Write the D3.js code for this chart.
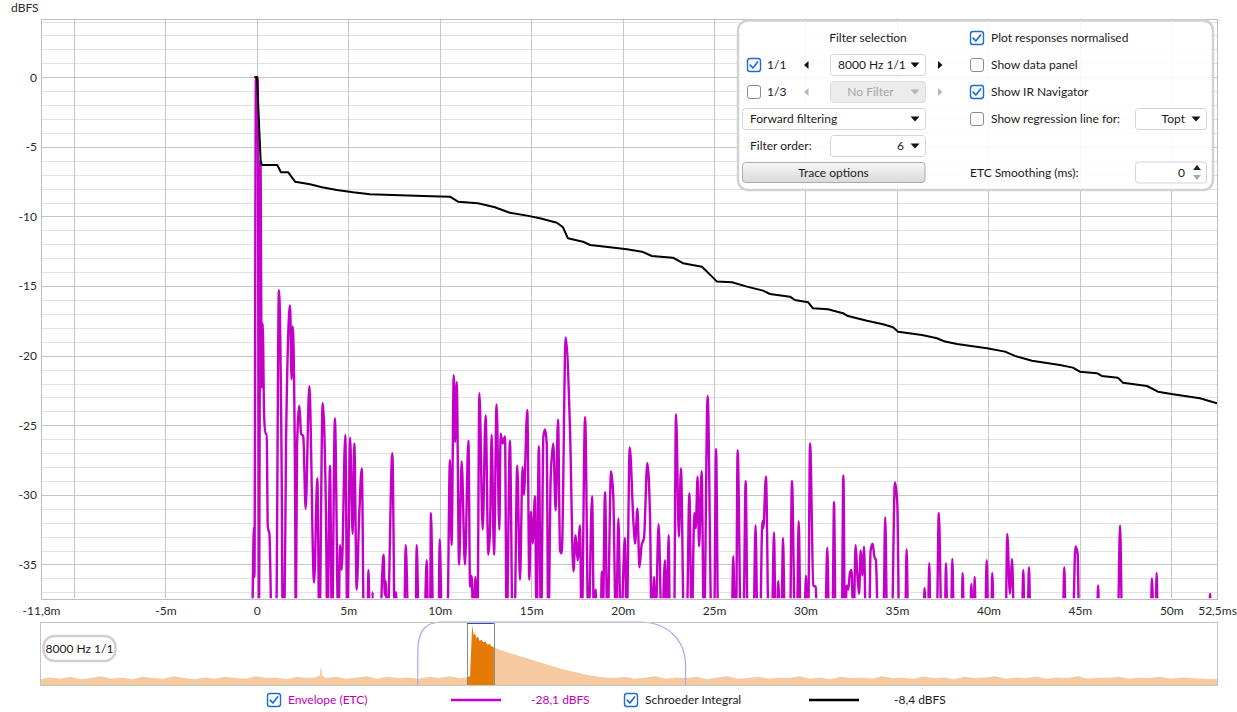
<!DOCTYPE html>
<html><head><meta charset="utf-8">
<script src="https://cdn.jsdelivr.net/npm/d3@7/dist/d3.min.js"></script>
<style>
html,body{margin:0;padding:0;background:#fff;}
svg{display:block;font-family:Lato,"Open Sans",sans-serif;}
</style></head><body>
<svg id="chart" width="1237" height="712"></svg>
<script>
// ---------------- data ----------------
const xDomain = [-11.8, 52.5];            // ms
const yDomain = [4.22, -37.43];           // dBFS
const xGridValues = [-10,-5,0,5,10,15,20,25,30,35,40,45,50];
const xTickValues = [-11.8,-5,0,5,10,15,20,25,30,35,40,45,50,52.5];
const xTickLabels = ["-11,8m","-5m","0","5m","10m","15m","20m","25m","30m","35m","40m","45m","50m","52,5ms"];
const yTickValues = [0,-5,-10,-15,-20,-25,-30,-35];
const yTickLabels = ["0","-5","-10","-15","-20","-25","-30","-35"];

// Envelope (ETC) : [time ms, level dBFS]
const etcData = [
[-0.25,-40],[-0.15,-32.3],[-0.13,-35.9],[-0.05,0],[0.05,0],[0.12,-38],[0.2,-6.0],[0.27,-22.3],[0.32,-17.7],
[0.4,-24.3],[0.47,-25.6],[0.54,-25.6],[0.6,-32.3],[0.69,-32.8],[0.82,-40],[1.05,-40],[1.21,-15.3],[1.36,-28.6],
[1.42,-40],[1.5,-40],[1.6,-26.0],[1.82,-16.4],[1.9,-21.7],[1.96,-17.9],[2.09,-28.8],[2.13,-40],[2.2,-26.5],
[2.33,-23.6],[2.42,-25.6],[2.54,-25.8],[2.67,-31.0],[2.87,-22.2],[3.13,-36.3],[3.31,-28.8],[3.42,-40],[3.6,-23.4],
[3.78,-31.3],[3.86,-40],[4.0,-27.9],[4.11,-40],[4.27,-24.5],[4.46,-40],[4.55,-33.6],[4.64,-35.4],[4.84,-25.7],
[4.95,-40],[5.1,-25.9],[5.24,-32.8],[5.33,-26.3],[5.46,-36.8],[5.59,-31.8],[5.74,-28.1],[5.86,-40],[6.05,-40],
[6.1,-35.4],[6.19,-40],[6.3,-40],[6.33,-37.0],[6.37,-40],[6.75,-40],[6.85,-35.9],[6.93,-34.3],[7.0,-37.2],
[7.05,-36.2],[7.14,-40],[7.41,-27.0],[7.55,-40],[7.61,-37.0],[7.69,-40],[8.05,-40],[8.14,-33.6],[8.3,-40],
[8.68,-40],[8.74,-33.6],[8.87,-40],[9.15,-40],[9.29,-34.7],[9.38,-40],[9.47,-40],[9.52,-31.3],[9.66,-40],
[9.93,-40],[10.0,-33.2],[10.13,-40],[10.41,-40],[10.56,-27.5],[10.65,-33.6],[10.77,-21.4],[10.84,-26.2],
[10.93,-21.9],[11.06,-35.0],[11.2,-27.6],[11.38,-35.0],[11.57,-26.1],[11.66,-36.6],[11.75,-35.8],[11.84,-40],
[11.95,-35.9],[12.06,-40],[12.17,-22.7],[12.35,-32.5],[12.51,-24.3],[12.66,-34.3],[12.75,-32.5],[12.84,-25.7],
[12.97,-34.3],[13.11,-23.5],[13.26,-32.5],[13.33,-25.6],[13.44,-26.3],[13.57,-25.8],[13.66,-40],[13.84,-26.1],
[13.99,-40],[14.08,-40],[14.24,-27.9],[14.39,-36.1],[14.53,-28.0],[14.6,-30.0],[14.79,-23.9],[14.9,-36.1],
[14.99,-31.2],[15.08,-33.5],[15.21,-30.1],[15.3,-40],[15.42,-26.5],[15.54,-40],[15.67,-25.8],[15.76,-25.3],
[15.85,-26.3],[15.94,-40],[16.07,-28.7],[16.21,-26.3],[16.34,-31.1],[16.47,-24.6],[16.58,-34.0],[16.67,-34.2],
[16.89,-18.7],[17.13,-25.6],[17.31,-35.5],[17.43,-32.9],[17.54,-34.7],[17.67,-32.2],[17.76,-40],[17.95,-24.4],
[18.13,-40],[18.33,-30.1],[18.44,-40],[18.53,-36.8],[18.58,-40],[18.8,-40],[18.86,-35.5],[18.91,-40],
[19.04,-29.8],[19.17,-40],[19.37,-28.3],[19.49,-30.1],[19.64,-40],[19.77,-31.7],[19.9,-40],[20.13,-33.1],
[20.22,-40],[20.39,-26.6],[20.59,-31.9],[20.68,-33.5],[20.81,-31.0],[20.92,-35.2],[21.04,-33.6],[21.17,-33.1],
[21.35,-27.7],[21.5,-31.6],[21.59,-40],[21.72,-35.9],[21.79,-40],[21.97,-32.1],[22.14,-40],[22.32,-34.7],
[22.41,-40],[22.52,-32.9],[22.59,-40],[22.81,-40],[22.92,-24.2],[23.08,-33.0],[23.19,-28.1],[23.36,-40],
[23.5,-40],[23.65,-29.9],[23.78,-40],[23.92,-31.3],[24.0,-32.4],[24.1,-28.7],[24.18,-33.7],[24.32,-28.3],
[24.45,-40],[24.65,-22.9],[24.87,-40],[25.0,-40],[25.11,-26.7],[25.23,-40],[25.96,-40],[26.05,-34.4],
[26.15,-40],[26.2,-40],[26.29,-26.8],[26.47,-40],[26.6,-40],[26.73,-29.0],[26.84,-40],[27.15,-40],
[27.27,-32.2],[27.38,-40],[27.51,-40],[27.64,-31.9],[27.69,-32.4],[27.84,-28.7],[27.99,-40],[28.15,-40],
[28.28,-32.7],[28.37,-40],[28.44,-40],[28.51,-36.2],[28.61,-40],[28.68,-40],[28.77,-33.1],[28.88,-40],
[29.15,-40],[29.26,-29.0],[29.43,-40],[29.52,-40],[29.63,-31.9],[29.74,-40],[29.92,-40],[30.03,-35.8],
[30.1,-40],[30.14,-40],[30.25,-26.3],[30.43,-36.5],[30.56,-36.6],[30.65,-40],[31.07,-40],[31.19,-33.8],
[31.3,-40],[31.47,-40],[31.56,-30.5],[31.65,-40],[31.98,-40],[32.07,-28.6],[32.16,-40],[32.25,-36.5],
[32.34,-36.8],[32.43,-35.6],[32.52,-35.4],[32.62,-40],[32.74,-33.6],[32.83,-35.6],[32.93,-37.1],[33.02,-34.0],
[33.11,-35.8],[33.2,-33.7],[33.31,-40],[33.47,-40],[33.56,-34.0],[33.67,-33.5],[33.76,-34.4],[33.85,-34.7],
[33.98,-40],[34.25,-40],[34.36,-31.6],[34.47,-40],[34.71,-40],[34.89,-29.1],[35.02,-30.6],[35.13,-40],
[35.44,-40],[35.53,-33.9],[35.62,-40],[36.44,-40],[36.51,-36.7],[36.59,-40],[36.68,-40],[36.77,-34.9],
[36.84,-40],[37.17,-40],[37.29,-31.3],[37.45,-40],[37.61,-40],[37.68,-34.9],[37.77,-40],[37.94,-40],
[38.03,-34.6],[38.12,-40],[38.54,-40],[38.59,-35.6],[38.68,-40],[38.99,-40],[39.07,-36.4],[39.14,-40],
[39.18,-40],[39.25,-35.9],[39.32,-40],[39.81,-40],[39.91,-34.7],[40.0,-40],[40.14,-40],[40.21,-35.6],
[40.31,-40],[40.94,-40],[41.03,-32.8],[41.18,-37.1],[41.29,-34.6],[41.42,-40],[41.82,-40],[41.91,-35.4],
[41.98,-40],[42.13,-40],[42.22,-35.2],[42.31,-40],[44.06,-40],[44.15,-35.2],[44.24,-40],[44.61,-40],
[44.76,-33.7],[44.88,-34.2],[44.97,-40],[45.92,-40],[46.0,-36.5],[46.07,-40],[47.07,-40],[47.2,-32.2],
[47.32,-40],[48.87,-40],[48.94,-36.0],[49.05,-40],[49.13,-40],[49.2,-35.6],[49.27,-40],[52.05,-40],
[52.12,-37.1],[52.2,-40],[52.5,-40]
];

// Schroeder integral : [time ms, level dBFS]
const schroederData = [
[-0.14,0],[0.01,0],[0.09,-2.4],[0.21,-6.0],[0.28,-6.3],[1.12,-6.3],[1.32,-6.82],[1.71,-6.82],[2.09,-7.5],
[2.91,-7.69],[3.56,-7.9],[4.38,-8.1],[5.26,-8.26],[6.19,-8.4],[7.83,-8.48],[9.09,-8.53],[10.56,-8.58],
[11.0,-8.94],[12.09,-9.05],[13.02,-9.34],[13.84,-9.73],[14.77,-9.94],[15.48,-10.13],[16.41,-10.45],
[16.74,-10.78],[17.01,-11.57],[17.83,-11.81],[18.22,-12.05],[19.31,-12.21],[20.24,-12.36],[21.06,-12.53],
[21.6,-12.84],[22.75,-12.96],[23.3,-13.36],[24.34,-13.61],[24.89,-14.32],[25.16,-14.68],[25.98,-14.73],
[26.8,-15.04],[27.68,-15.33],[28.06,-15.57],[29.15,-15.76],[29.42,-16.0],[30.14,-16.16],[30.41,-16.6],
[31.23,-16.67],[32.05,-16.95],[32.27,-17.13],[33.36,-17.49],[34.24,-17.74],[34.79,-17.96],[35.06,-18.28],
[36.37,-18.51],[37.19,-18.75],[37.63,-18.99],[38.28,-19.16],[39.92,-19.47],[40.91,-19.71],[41.45,-20.02],
[42.38,-20.36],[43.91,-20.67],[44.62,-20.86],[45.0,-21.15],[45.93,-21.26],[46.2,-21.46],[47.08,-21.58],
[47.36,-21.94],[48.67,-22.18],[49.27,-22.59],[50.09,-22.77],[51.57,-23.06],[52.5,-23.42]
];

// IR navigator: [time ms, relative level 0..1]
const navDomain = [-1049, 1808];
const navData = [
[-1049,0.09],[-1025,0.12],[-1000,0.10],[-975,0.13],[-950,0.09],[-925,0.11],[-900,0.14],[-875,0.10],[-850,0.12],
[-825,0.09],[-800,0.13],[-775,0.11],[-750,0.10],[-725,0.14],[-700,0.11],[-675,0.09],[-650,0.12],[-625,0.10],
[-600,0.13],[-575,0.11],[-550,0.10],[-525,0.14],[-500,0.11],[-475,0.12],[-450,0.09],[-425,0.13],[-400,0.11],
[-380,0.12],[-370,0.15],[-367,0.30],[-364,0.15],[-355,0.11],[-330,0.13],[-305,0.10],[-280,0.12],[-255,0.14],
[-230,0.10],[-205,0.13],[-180,0.11],[-155,0.12],[-130,0.10],[-105,0.13],[-80,0.11],[-55,0.14],[-30,0.11],
[-15,0.12],[-5,0.14],[-2,0.6],[0,0.94],[2,0.86],[4,0.78],[7,0.82],[10,0.74],[14,0.77],[18,0.70],[22,0.72],
[27,0.68],[32,0.69],[37,0.64],[42,0.65],[47,0.61],[52.5,0.60],[60,0.58],[70,0.55],[80,0.53],[95,0.50],
[110,0.47],[125,0.44],[140,0.41],[160,0.37],[180,0.33],[200,0.29],[220,0.25],[240,0.22],[260,0.19],
[280,0.16],[300,0.14],[320,0.12],[345,0.11],[370,0.13],[395,0.10],[420,0.12],[445,0.14],[470,0.10],
[495,0.12],[520,0.11],[545,0.13],[570,0.09],[595,0.12],[620,0.14],[645,0.10],[670,0.11],[695,0.13],
[720,0.10],[745,0.12],[770,0.11],[795,0.14],[820,0.10],[845,0.12],[870,0.09],[895,0.13],[920,0.11],
[945,0.12],[970,0.10],[995,0.14],[1020,0.11],[1045,0.12],[1070,0.10],[1095,0.13],[1120,0.11],[1145,0.12],
[1170,0.09],[1195,0.13],[1220,0.11],[1245,0.12],[1270,0.14],[1295,0.10],[1320,0.12],[1345,0.11],[1370,0.13],
[1395,0.10],[1420,0.12],[1445,0.11],[1470,0.14],[1495,0.10],[1520,0.12],[1545,0.11],[1570,0.13],[1595,0.10],
[1620,0.12],[1645,0.11],[1670,0.13],[1695,0.10],[1720,0.12],[1745,0.11],[1770,0.10],[1808,0.09]
];
const navWindow = [-132, 518];   // analysis window (ms)
const navLabel = "8000 Hz 1/1";

const legendItems = [
  {name:"Envelope (ETC)", value:"-28,1 dBFS", color:"#c400c8", textColor:"#c000c0"},
  {name:"Schroeder Integral", value:"-8,4 dBFS", color:"#000000", textColor:"#1a1a1a"}
];

// ---------------- drawing ----------------
const svg = d3.select("#chart");
const P = {l:41, r:1217, t:18.5, b:598.3};
const x = d3.scaleLinear().domain(xDomain).range([P.l, P.r]);
const y = d3.scaleLinear().domain(yDomain).range([P.t, P.b]);
const crisp = v => Math.round(v) + 0.5;

const defs = svg.append("defs");
defs.append("clipPath").attr("id","plotClip").append("rect")
  .attr("x",P.l).attr("y",P.t).attr("width",P.r-P.l).attr("height",P.b-P.t);
const grad = defs.append("linearGradient").attr("id","btnGrad").attr("x1",0).attr("y1",0).attr("x2",0).attr("y2",1);
grad.append("stop").attr("offset","0%").attr("stop-color","#f7f7f7");
grad.append("stop").attr("offset","100%").attr("stop-color","#d9d9d9");

// grid
const grid = svg.append("g");
const minorY = d3.range(-37, 5, 1).filter(v => v % 5 !== 0);
grid.selectAll("line.minor").data(minorY).join("line")
  .attr("x1",P.l).attr("x2",P.r).attr("y1",d=>crisp(y(d))).attr("y2",d=>crisp(y(d)))
  .attr("stroke","#e2e2e2").attr("stroke-width",1);
grid.selectAll("line.majorY").data(yTickValues).join("line")
  .attr("x1",P.l).attr("x2",P.r).attr("y1",d=>crisp(y(d))).attr("y2",d=>crisp(y(d)))
  .attr("stroke","#c6c6c6").attr("stroke-width",1);
grid.selectAll("line.majorX").data(xGridValues).join("line")
  .attr("y1",P.t).attr("y2",P.b).attr("x1",d=>crisp(x(d))).attr("x2",d=>crisp(x(d)))
  .attr("stroke","#c6c6c6").attr("stroke-width",1);
svg.append("rect").attr("x",crisp(P.l)).attr("y",crisp(P.t)).attr("width",Math.round(P.r-P.l)).attr("height",Math.round(P.b-P.t))
  .attr("fill","none").attr("stroke","#bdbdbd");

// axes labels
const yAxis = svg.append("g").attr("transform",`translate(${P.l},0)`)
  .call(d3.axisLeft(y).tickValues(yTickValues).tickFormat((d,i)=>yTickLabels[i]).tickSize(0).tickPadding(4));
yAxis.select(".domain").remove();
yAxis.selectAll("text").attr("font-size",12).attr("fill","#2a2a2a").attr("font-family","Lato, sans-serif");

const xAxis = svg.append("g").attr("transform",`translate(0,${P.b})`)
  .call(d3.axisBottom(x).tickValues(xTickValues).tickFormat((d,i)=>xTickLabels[i]).tickSize(0).tickPadding(8));
xAxis.select(".domain").remove();
xAxis.selectAll("text").attr("font-size",12).attr("fill","#2a2a2a").attr("font-family","Lato, sans-serif");

svg.append("text").attr("x",11).attr("y",12).attr("font-size",12).attr("fill","#2a2a2a").text("dBFS");

// series
const plot = svg.append("g").attr("clip-path","url(#plotClip)");
const etcLine = d3.line().x(d=>x(d[0])).y(d=>y(d[1])).curve(d3.curveMonotoneX);
plot.append("path").datum(etcData).attr("d",etcLine)
  .attr("fill","none").attr("stroke","#c400c8").attr("stroke-width",2.4).attr("stroke-linejoin","round");
const schLine = d3.line().x(d=>x(d[0])).y(d=>y(d[1]));
plot.append("path").datum(schroederData).attr("d",schLine)
  .attr("fill","none").attr("stroke","#000").attr("stroke-width",2).attr("stroke-linejoin","round");

// ---------------- control panel ----------------
const ui = svg.append("g").attr("font-size",12).attr("fill","#1a1a1a");
ui.append("rect").attr("x",738).attr("y",20.5).attr("width",475).attr("height",169.5).attr("rx",10)
  .attr("fill","#fff").attr("fill-opacity",0.86).attr("stroke","#d2d2d2").attr("stroke-width",2.5);

function checkbox(g, cx, cy, checked){
  g.append("rect").attr("x",cx+0.5).attr("y",cy+0.5).attr("width",13).attr("height",13).attr("rx",2.5)
    .attr("fill","#fff").attr("stroke",checked?"#1c6dd0":"#8c8c8c").attr("stroke-width",checked?1.4:1);
  if(checked){
    g.append("path").attr("d",`M${cx+3.2},${cy+7.2} L${cx+5.9},${cy+10} L${cx+10.6},${cy+4}`)
      .attr("fill","none").attr("stroke","#1c6dd0").attr("stroke-width",1.7).attr("stroke-linecap","round").attr("stroke-linejoin","round");
  }
}
function label(g, tx, ty, txt, anchor, color){
  return g.append("text").attr("x",tx).attr("y",ty).attr("dy","0.35em")
    .attr("text-anchor",anchor||"start").attr("fill",color||"#1a1a1a").text(txt);
}
function downTri(g, cx, cy, color){
  g.append("path").attr("d",`M${cx-4.5},${cy-2.5} L${cx+4.5},${cy-2.5} L${cx},${cy+2.5} Z`).attr("fill",color);
}
function dropdown(g, x0, x1, cy, txt, anchor, disabled){
  g.append("rect").attr("x",x0+0.5).attr("y",cy-10.5).attr("width",x1-x0).attr("height",21).attr("rx",3)
    .attr("fill",disabled?"#ececec":"#fff").attr("stroke",disabled?"#dedede":"#d4d4d4");
  downTri(g, x1-10, cy, disabled?"#b4b4b4":"#111");
  let tx = anchor==="end" ? x1-21 : anchor==="middle" ? (x0+x1-14)/2 : x0+8;
  label(g, tx, cy, txt, anchor, disabled?"#a4a4a4":"#1a1a1a");
}
function arrowL(g, cx, cy, color){ g.append("path").attr("d",`M${cx+2.5},${cy-4} L${cx+2.5},${cy+4} L${cx-2},${cy} Z`).attr("fill",color); }
function arrowR(g, cx, cy, color){ g.append("path").attr("d",`M${cx-2},${cy-4} L${cx-2},${cy+4} L${cx+2.5},${cy} Z`).attr("fill",color); }

label(ui, 868, 38, "Filter selection", "middle");
checkbox(ui, 747, 58, true); label(ui, 767, 65, "1/1");
arrowL(ui, 806, 65, "#111"); dropdown(ui, 830, 925, 65, "8000 Hz 1/1"); arrowR(ui, 940, 65, "#111");
checkbox(ui, 747, 85, false); label(ui, 767, 92, "1/3");
arrowL(ui, 806, 92, "#b8b8b8"); dropdown(ui, 830, 925, 92, "No Filter", "middle", true); arrowR(ui, 940, 92, "#b8b8b8");
dropdown(ui, 742, 925, 119, "Forward filtering");
label(ui, 750, 146, "Filter order:");
dropdown(ui, 830, 925, 146, "6", "end");
ui.append("rect").attr("x",742.5).attr("y",162.5).attr("width",182.5).attr("height",20).attr("rx",3)
  .attr("fill","url(#btnGrad)").attr("stroke","#ababab");
label(ui, 833.5, 172.5, "Trace options", "middle");

checkbox(ui, 970, 31, true);  label(ui, 991, 38, "Plot responses normalised");
checkbox(ui, 970, 58, false); label(ui, 991, 65, "Show data panel");
checkbox(ui, 970, 85, true);  label(ui, 991, 92, "Show IR Navigator");
checkbox(ui, 970, 112, false); label(ui, 991, 119, "Show regression line for:");
dropdown(ui, 1135, 1206, 119, "Topt", "end");
label(ui, 970, 172.5, "ETC Smoothing (ms):");
ui.append("rect").attr("x",1135.5).attr("y",162).attr("width",71).attr("height",21).attr("rx",3)
  .attr("fill","#fff").attr("stroke","#d4d4d4");
label(ui, 1185, 172.5, "0", "end");
ui.append("path").attr("d","M1193,170 L1201,170 L1197,165 Z").attr("fill","#222");
ui.append("path").attr("d","M1193,175 L1201,175 L1197,180 Z").attr("fill","#a8a8a8");

// ---------------- IR navigator ----------------
const N = {l:40, r:1217, t:622, b:685};
const xn = d3.scaleLinear().domain(navDomain).range([N.l, N.r]);
const yn = d3.scaleLinear().domain([0,1]).range([N.b, N.t]);
defs.append("clipPath").attr("id","navSel").append("rect")
  .attr("x",xn(xDomain[0])).attr("y",N.t).attr("width",xn(xDomain[1])-xn(xDomain[0])).attr("height",N.b-N.t);
const navArea = d3.area().x(d=>xn(d[0])).y0(N.b).y1(d=>yn(d[1]));
svg.append("path").datum(navData).attr("d",navArea).attr("fill","#f7c9a0");
svg.append("path").datum(navData).attr("d",navArea).attr("fill","#e67a06").attr("clip-path","url(#navSel)");

// analysis window outline
{
  const a = xn(navWindow[0]), b = xn(navWindow[1]);
  const p = d3.path();
  p.moveTo(a, N.b);
  p.lineTo(a, N.t+30);
  p.bezierCurveTo(a, N.t+8, a+8, N.t, a+24, N.t);
  p.lineTo(b-46, N.t);
  p.bezierCurveTo(b-18, N.t, b, N.t+18, b, N.t+44);
  p.lineTo(b, N.b);
  svg.append("path").attr("d",p.toString()).attr("fill","none").attr("stroke","#a9a9e6").attr("stroke-width",1.2);
}
// selection box
{
  const a = xn(xDomain[0]), b = xn(xDomain[1]);
  svg.append("line").attr("x1",crisp(a)).attr("x2",crisp(a)).attr("y1",N.t).attr("y2",N.b).attr("stroke","#8a8a8a");
  svg.append("line").attr("x1",crisp(b)).attr("x2",crisp(b)).attr("y1",N.t).attr("y2",N.b).attr("stroke","#8a8a8a");
  svg.append("line").attr("x1",a).attr("x2",b).attr("y1",N.t+1).attr("y2",N.t+1).attr("stroke","#3a48b8").attr("stroke-width",2);
}
svg.append("rect").attr("x",crisp(N.l)).attr("y",crisp(N.t)).attr("width",N.r-N.l).attr("height",N.b-N.t)
  .attr("fill","none").attr("stroke","#c4c4c4");
svg.append("rect").attr("x",43.5).attr("y",636).attr("width",72).attr("height",25).attr("rx",11)
  .attr("fill","#fff").attr("stroke","#d0d0d0").attr("stroke-width",2.5);
svg.append("text").attr("x",79.5).attr("y",648.5).attr("dy","0.35em").attr("text-anchor","middle")
  .attr("font-size",12).attr("fill","#1a1a1a").text(navLabel);

// ---------------- legend ----------------
const lg = svg.append("g").attr("font-size",12);
const legendPos = [{cb:267, name:288, l0:451, l1:501, val:531}, {cb:624, name:645, l0:809, l1:859, val:894}];
legendItems.forEach((it,i)=>{
  const p = legendPos[i];
  checkbox(lg, p.cb, 693, true);
  label(lg, p.name, 700, it.name, "start", it.textColor);
  lg.append("line").attr("x1",p.l0).attr("x2",p.l1).attr("y1",700).attr("y2",700).attr("stroke",it.color).attr("stroke-width",2.6);
  label(lg, p.val, 700, it.value, "start", it.textColor);
});
</script>
</body></html>
